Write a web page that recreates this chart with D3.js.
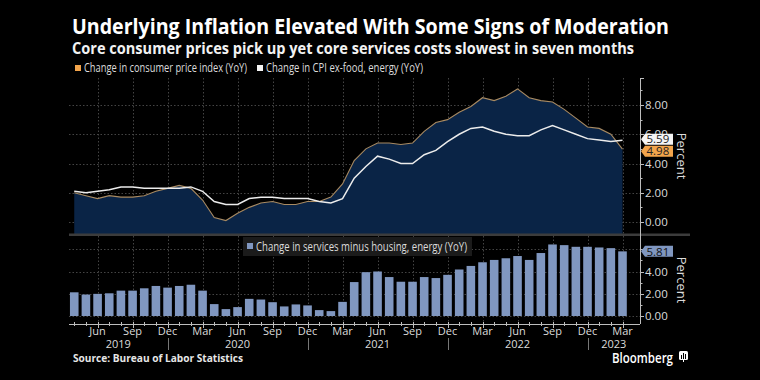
<!DOCTYPE html>
<html><head><meta charset="utf-8">
<script src="https://cdn.jsdelivr.net/npm/d3@7"></script>
<style>
html,body{margin:0;padding:0;background:#000;}
svg{display:block;}
text{font-family:"Open Sans","Noto Sans",sans-serif;}
</style></head>
<body>
<svg id="c" width="760" height="380"></svg>
<script>
// ---- data ----
const months = ["2019-04","2019-05","2019-06","2019-07","2019-08","2019-09","2019-10","2019-11","2019-12",
"2020-01","2020-02","2020-03","2020-04","2020-05","2020-06","2020-07","2020-08","2020-09","2020-10","2020-11","2020-12",
"2021-01","2021-02","2021-03","2021-04","2021-05","2021-06","2021-07","2021-08","2021-09","2021-10","2021-11","2021-12",
"2022-01","2022-02","2022-03","2022-04","2022-05","2022-06","2022-07","2022-08","2022-09","2022-10","2022-11","2022-12",
"2023-01","2023-02","2023-03"];
const cpi = [2.0,1.8,1.6,1.8,1.7,1.7,1.8,2.1,2.3,2.5,2.3,1.5,0.3,0.1,0.6,1.0,1.3,1.4,1.2,1.2,1.4,1.4,1.7,2.6,4.2,5.0,5.4,5.4,5.3,5.4,6.2,6.8,7.0,7.5,7.9,8.5,8.3,8.6,9.1,8.5,8.3,8.2,7.7,7.1,6.5,6.4,6.0,4.98];
const core = [2.1,2.0,2.1,2.2,2.4,2.4,2.3,2.3,2.3,2.3,2.4,2.1,1.4,1.2,1.2,1.6,1.7,1.7,1.6,1.6,1.6,1.4,1.3,1.6,3.0,3.8,4.5,4.3,4.0,4.0,4.6,4.9,5.5,6.0,6.4,6.5,6.2,6.0,5.9,5.9,6.3,6.6,6.3,6.0,5.7,5.6,5.5,5.59];
const supercore = [2.13,1.93,1.99,2.04,2.28,2.28,2.49,2.70,2.55,2.70,2.81,2.28,1.07,0.62,0.80,1.54,1.48,1.24,0.86,1.04,0.95,0.53,0.44,1.27,3.05,3.94,4.0,3.5,3.08,3.08,3.5,3.41,3.70,4.18,4.50,4.83,5.04,5.19,5.39,5.04,5.66,6.43,6.37,6.22,6.22,6.16,6.10,5.81];
const topTicks = [0,2,4,6,8];
const botTicks = [0,2,4];
const botGrid = [0,2,4,6];
const years = ["2019","2020","2021","2022","2023"];
const title = "Underlying Inflation Elevated With Some Signs of Moderation";
const subtitle = "Core consumer prices pick up yet core services costs slowest in seven months";
const legendTop = ["Change in consumer price index (YoY)","Change in CPI ex-food, energy (YoY)"];
const legendBot = "Change in services minus housing, energy (YoY)";
const source = "Source: Bureau of Labor Statistics";

// ---- layout ----
const svg = d3.select("#c");
const L = 69, R = 640;
const topY0 = 78, topY1 = 234, botY0 = 236, botY1 = 324;
const dates = months.map(d3.timeParse("%Y-%m"));
const idx = d3.range(months.length);
const x = d3.scaleLinear().domain([-0.45, 48.5]).range([L, R]);
const yT = d3.scaleLinear().domain([0, 8]).range([222, 105]);
const yB = d3.scaleLinear().domain([0, 4]).range([316, 271.5]);

const gridC = "#444", axisC = "#bdbdbd", textC = "#dcdcdc";
const navy = "#0a2446", cpiLine = "#a88a62", orange = "#f2a44b", barC = "#8097c0";

const labIdx = idx.filter(i => [2,5,8,11].includes(dates[i].getMonth()));
const decIdx = idx.filter(i => dates[i].getMonth() === 11);
const px = v => Math.round(v) + 0.5;

// grids
const grid = svg.append("g").attr("stroke", gridC).attr("stroke-width", 1).attr("stroke-dasharray", "1.5,2");
labIdx.forEach(i => {
  grid.append("line").attr("x1", px(x(i))).attr("x2", px(x(i))).attr("y1", topY0).attr("y2", topY1);
  grid.append("line").attr("x1", px(x(i))).attr("x2", px(x(i))).attr("y1", botY0).attr("y2", botY1);
});
topTicks.forEach(t => grid.append("line").attr("x1", L).attr("x2", R).attr("y1", px(yT(t))).attr("y2", px(yT(t))));
botGrid.forEach(t => grid.append("line").attr("x1", L).attr("x2", R).attr("y1", px(yB(t))).attr("y2", px(yB(t))));

// area + lines
svg.append("path").datum(idx)
  .attr("d", d3.area().x(i => x(i)).y0(topY1).y1(i => yT(cpi[i])))
  .attr("fill", navy);
svg.append("path").datum(idx)
  .attr("d", d3.line().x(i => x(i)).y(i => yT(cpi[i])))
  .attr("fill", "none").attr("stroke", cpiLine).attr("stroke-width", 1.1);
svg.append("path").datum(idx)
  .attr("d", d3.line().x(i => x(i)).y(i => yT(core[i])))
  .attr("fill", "none").attr("stroke", "#ececec").attr("stroke-width", 1.5);

// bars
const bw = 8.6;
svg.append("g").selectAll("rect").data(idx).join("rect")
  .attr("x", i => x(i) - bw/2).attr("width", bw)
  .attr("y", i => yB(supercore[i])).attr("height", i => yB(0) - yB(supercore[i]))
  .attr("fill", barC);

// separator line between panels
svg.append("rect").attr("x", L).attr("y", 233.5).attr("width", 690 - L).attr("height", 2.5).attr("fill", "#3c3c3c");

// right axis
svg.append("line").attr("x1", R+0.5).attr("x2", R+0.5).attr("y1", topY0).attr("y2", botY1).attr("stroke", axisC);
svg.append("line").attr("x1", R).attr("x2", R+4).attr("y1", topY0+0.5).attr("y2", topY0+0.5).attr("stroke", axisC);
const ax = svg.append("g");
topTicks.forEach(t => {
  ax.append("line").attr("x1", R).attr("x2", R+4).attr("y1", px(yT(t))).attr("y2", px(yT(t))).attr("stroke", axisC);
  ax.append("text").attr("x", R+5).attr("y", yT(t)).attr("dy", "0.36em").attr("font-size", 11.5).attr("fill", textC).text(d3.format(".2f")(t));
});
[1,3,5,7,9].forEach(t => ax.append("line").attr("x1", R).attr("x2", R+2.5).attr("y1", px(yT(t))).attr("y2", px(yT(t))).attr("stroke", axisC));
botGrid.forEach(t => ax.append("line").attr("x1", R).attr("x2", R+4).attr("y1", px(yB(t))).attr("y2", px(yB(t))).attr("stroke", axisC));
botTicks.forEach(t => {
  ax.append("text").attr("x", R+5).attr("y", yB(t)).attr("dy", "0.36em").attr("font-size", 11.5).attr("fill", textC).text(d3.format(".2f")(t));
});
[1,3,5].forEach(t => ax.append("line").attr("x1", R).attr("x2", R+2.5).attr("y1", px(yB(t))).attr("y2", px(yB(t))).attr("stroke", axisC));

// value tags
function tag(cy, fill, label, tc) {
  const g = svg.append("g");
  g.append("path").attr("d", `M${R+1},${cy} L${R+5},${cy-5.5} L${R+33},${cy-5.5} L${R+33},${cy+5.5} L${R+5},${cy+5.5} Z`).attr("fill", fill);
  g.append("text").attr("x", R+6.5).attr("y", cy).attr("dy", "0.36em").attr("font-size", 11.5).attr("fill", tc).text(label);
}
tag(yT(core[47]) - 1, "#f4f4f4", d3.format(".2f")(core[47]), "#222");
tag(yT(cpi[47]) + 2, orange, d3.format(".2f")(cpi[47]), "#222");
tag(yB(supercore[47]), barC, d3.format(".2f")(supercore[47]), "#111");

// Percent labels
[156, 280].forEach(cy => {
  svg.append("text").attr("transform", `translate(677,${cy}) rotate(90)`).attr("text-anchor", "middle")
    .attr("font-size", 13).attr("fill", textC).text("Percent");
});

// x axis
svg.append("line").attr("x1", L).attr("x2", R).attr("y1", botY1+0.5).attr("y2", botY1+0.5).attr("stroke", axisC);
idx.forEach(i => svg.append("line").attr("x1", px(x(i))).attr("x2", px(x(i)))
  .attr("y1", botY1-2).attr("y2", botY1 + (labIdx.includes(i) ? 4 : 2)).attr("stroke", axisC));
labIdx.forEach(i => svg.append("text").attr("x", x(i)).attr("y", 331.5).attr("dy", "0.36em").attr("text-anchor", "middle")
  .attr("font-size", 11).attr("fill", textC).text(d3.timeFormat("%b")(dates[i])));
decIdx.forEach(i => svg.append("line").attr("x1", px(x(i))).attr("x2", px(x(i)))
  .attr("y1", 338).attr("y2", 350).attr("stroke", "#777"));
const bounds = [L, ...decIdx.map(i => x(i)), R];
years.forEach((yr, k) => svg.append("text").attr("x", (bounds[k] + bounds[k+1]) / 2).attr("y", 344.5).attr("dy", "0.36em")
  .attr("text-anchor", "middle").attr("font-size", 11).attr("fill", textC).text(yr));

// titles
svg.append("text").attr("x", 72).attr("y", 34).attr("font-size", 21.5).attr("font-weight", 700).attr("fill", "#fff")
  .attr("textLength", 597).attr("lengthAdjust", "spacingAndGlyphs").text(title);
svg.append("text").attr("x", 72).attr("y", 54).attr("font-size", 16).attr("font-weight", 700).attr("fill", "#f2f2f2")
  .attr("textLength", 562).attr("lengthAdjust", "spacingAndGlyphs").text(subtitle);

// top legend
svg.append("rect").attr("x", 75).attr("y", 65).attr("width", 6).attr("height", 6).attr("fill", orange);
svg.append("text").attr("x", 84).attr("y", 72).attr("font-size", 12).attr("fill", textC)
  .attr("textLength", 163).attr("lengthAdjust", "spacingAndGlyphs").text(legendTop[0]);
svg.append("rect").attr("x", 257).attr("y", 65).attr("width", 6).attr("height", 6).attr("fill", "#f4f4f4");
svg.append("text").attr("x", 266).attr("y", 72).attr("font-size", 12).attr("fill", textC)
  .attr("textLength", 157).attr("lengthAdjust", "spacingAndGlyphs").text(legendTop[1]);

// bottom legend
svg.append("rect").attr("x", 243).attr("y", 237).attr("width", 229).attr("height", 19).attr("fill", "#1b1b1b");
svg.append("rect").attr("x", 247).attr("y", 243).attr("width", 6).attr("height", 6).attr("fill", barC);
svg.append("text").attr("x", 256).attr("y", 250.5).attr("font-size", 12).attr("fill", textC)
  .attr("textLength", 211).attr("lengthAdjust", "spacingAndGlyphs").text(legendBot);

// footer
svg.append("text").attr("x", 73).attr("y", 362).attr("font-size", 10.5).attr("font-weight", 700).attr("fill", "#e6e6e6")
  .attr("textLength", 170).attr("lengthAdjust", "spacingAndGlyphs").text(source);
svg.append("text").attr("x", 612).attr("y", 363).attr("font-size", 14).attr("font-weight", 600).attr("fill", "#fff")
  .attr("textLength", 61).attr("lengthAdjust", "spacingAndGlyphs").text("Bloomberg");
const lg = svg.append("g");
lg.append("rect").attr("x", 679).attr("y", 351).attr("width", 9).attr("height", 9).attr("rx", 1.5).attr("fill", "#fff");
[[681,355,1,4],[683,353,1,6],[685,354,1,5]].forEach(([a,b,w,h]) => lg.append("rect").attr("x", a).attr("y", b).attr("width", w).attr("height", h).attr("fill", "#000"));
lg.append("rect").attr("x", 683).attr("y", 360).attr("width", 1).attr("height", 2).attr("fill", "#fff");
</script>
</body></html>
